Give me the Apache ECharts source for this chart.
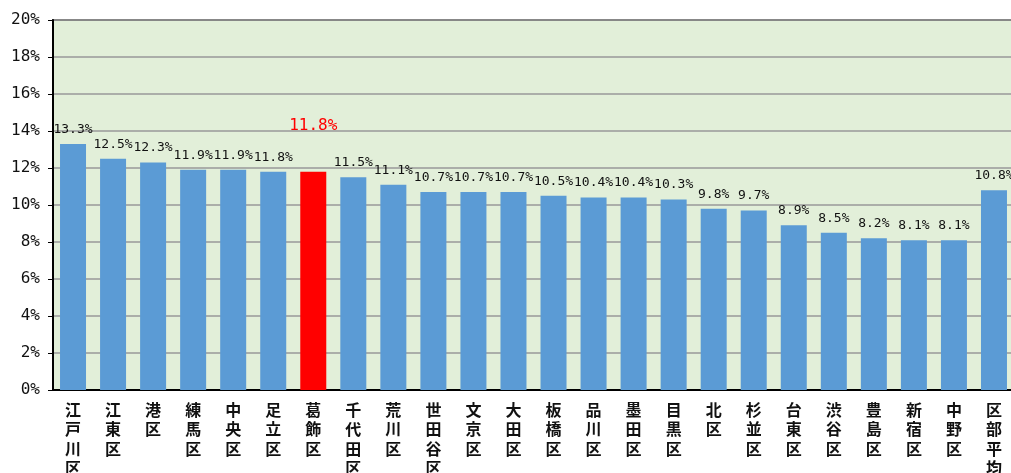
<!DOCTYPE html>
<html>
<head>
<meta charset="utf-8">
<script src="https://cdn.jsdelivr.net/npm/echarts@6/dist/echarts.min.js"></script>
<style>
  html, body { margin: 0; padding: 0; background: #fff; }
  #chart { width: 1011px; height: 473px; }
</style>
</head>
<body>
<div id="chart"></div>
<script>
// wards, sorted by rate; last one is the 23-ward average
const wards = ['江戸川区', '江東区', '港区', '練馬区', '中央区', '足立区', '葛飾区', '千代田区',
  '荒川区', '世田谷区', '文京区', '大田区', '板橋区', '品川区', '墨田区', '目黒区', '北区',
  '杉並区', '台東区', '渋谷区', '豊島区', '新宿区', '中野区', '区部平均'];
const rates = [13.3, 12.5, 12.3, 11.9, 11.9, 11.8, 11.8, 11.5, 11.1, 10.7, 10.7, 10.7, 10.5,
  10.4, 10.4, 10.3, 9.8, 9.7, 8.9, 8.5, 8.2, 8.1, 8.1, 10.8];
const highlight = '葛飾区';

const mono = "'DejaVu Sans Mono', 'Liberation Mono', monospace";

const seriesData = wards.map((w, i) => {
  if (w !== highlight) return rates[i];
  return {
    value: rates[i],
    itemStyle: { color: '#ff0000' },
    label: { color: '#ff0000', fontSize: 16, distance: 38 }
  };
});

const chart = echarts.init(document.getElementById('chart'));
chart.setOption({
  animation: false,
  grid: {
    left: 53, right: -3, top: 20, bottom: 83,
    outerBoundsMode: 'none',
    show: true, backgroundColor: '#e2efd9', borderColor: '#222', borderWidth: 1.5
  },
  xAxis: {
    type: 'category',
    data: wards,
    axisLine: { lineStyle: { color: '#000', width: 2 } },
    axisTick: { show: false },
    axisLabel: {
      interval: 0,
      margin: 10,
      color: '#111',
      fontSize: 16,
      fontWeight: 'bold',
      lineHeight: 19.5,
      fontFamily: "'Noto Sans CJK JP', sans-serif",
      formatter: v => v.split('').join('\n')
    }
  },
  yAxis: {
    type: 'value',
    min: 0, max: 20, interval: 2,
    axisLine: { show: true, lineStyle: { color: '#000', width: 2 } },
    axisTick: { show: true, length: 5, lineStyle: { color: '#000' } },
    splitLine: { lineStyle: { color: '#999', width: 1.5 } },
    axisLabel: {
      margin: 13,
      color: '#111',
      fontSize: 16,
      fontFamily: mono,
      formatter: v => v + '%'
    }
  },
  series: [{
    type: 'bar',
    data: seriesData,
    barWidth: 26,
    itemStyle: { color: '#5b9bd5' },
    label: {
      show: true,
      position: 'top',
      distance: 8,
      color: '#111',
      fontSize: 13,
      fontFamily: mono,
      formatter: p => p.value.toFixed(1) + '%'
    }
  }]
});
</script>
</body>
</html>
